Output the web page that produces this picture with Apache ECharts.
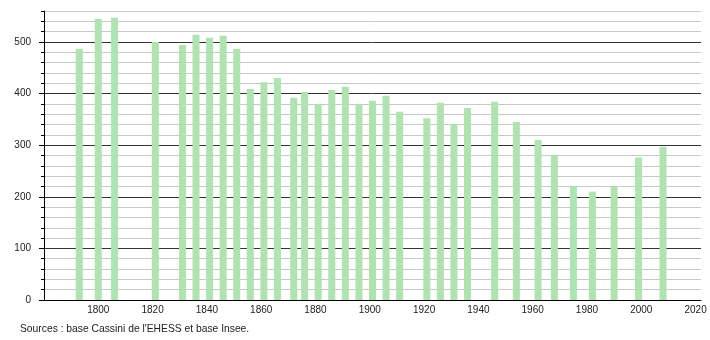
<!DOCTYPE html>
<html>
<head>
<meta charset="utf-8">
<script src="https://cdn.jsdelivr.net/npm/echarts@6/dist/echarts.min.js"></script>
<style>
html,body{margin:0;padding:0;background:#fff;}
#c{width:710px;height:340px;}
</style>
</head>
<body>
<div id="c"></div>
<script>
const years = [1793,1800,1806,1821,1831,1836,1841,1846,1851,1856,1861,1866,1872,1876,1881,1886,1891,1896,1901,1906,1911,1921,1926,1931,1936,1946,1954,1962,1968,1975,1982,1990,1999,2008];
const population = [487,545,547,500,494,514,508,512,487,409,422,430,392,403,380,407,413,380,386,396,365,352,382,341,372,384,345,310,281,219,210,219,276,297];
const yLabelValues = [0,100,200,300,400,500];
const sourceText = "Sources : base Cassini de l'EHESS et base Insee.";

const chart = echarts.init(document.getElementById('c'), null, {renderer:'canvas'});
const font = 'Liberation Sans, Arial, sans-serif';
chart.setOption({
  animation:false,
  grid:{left:44,right:9,top:11,bottom:40},
  xAxis:{
    type:'value', min:1780, max:2022, interval:20,
    axisLine:{show:true,onZero:false,lineStyle:{color:'#000',width:1}},
    axisTick:{show:false},
    splitLine:{show:false},
    axisLabel:{show:true,showMinLabel:false,showMaxLabel:false,margin:5,color:'#222',fontSize:10,fontFamily:font,
      formatter:v=>String(v)}
  },
  yAxis:[{
    type:'value', min:0, max:560, interval:20, position:'left',
    axisLine:{show:true,lineStyle:{color:'#000',width:1}},
    axisTick:{show:true,length:3,lineStyle:{color:'#000'}},
    splitLine:{show:true,lineStyle:{color:['#333','#c8c8c8','#c8c8c8','#c8c8c8','#c8c8c8'],width:1}},
    axisLabel:{show:true,customValues:yLabelValues,margin:13,color:'#222',fontSize:10,fontFamily:font,
      formatter:v=>String(v)}
  },{
    type:'value', min:0, max:560, position:'left', offset:0,
    axisLine:{show:false},
    axisTick:{show:true,customValues:yLabelValues,length:5,lineStyle:{color:'#000'}},
    splitLine:{show:false},
    axisLabel:{show:false}
  }],
  graphic:[{
    type:'text', left:20, top:324,
    style:{text:sourceText,fill:'#222',font:'10.3px '+font}
  }],
  series:[{
    type:'bar', yAxisIndex:0,
    data: years.map((y,i)=>[y,population[i]]),
    barWidth:7,
    itemStyle:{color:'#afe3af'}
  }]
});
</script>
</body>
</html>
